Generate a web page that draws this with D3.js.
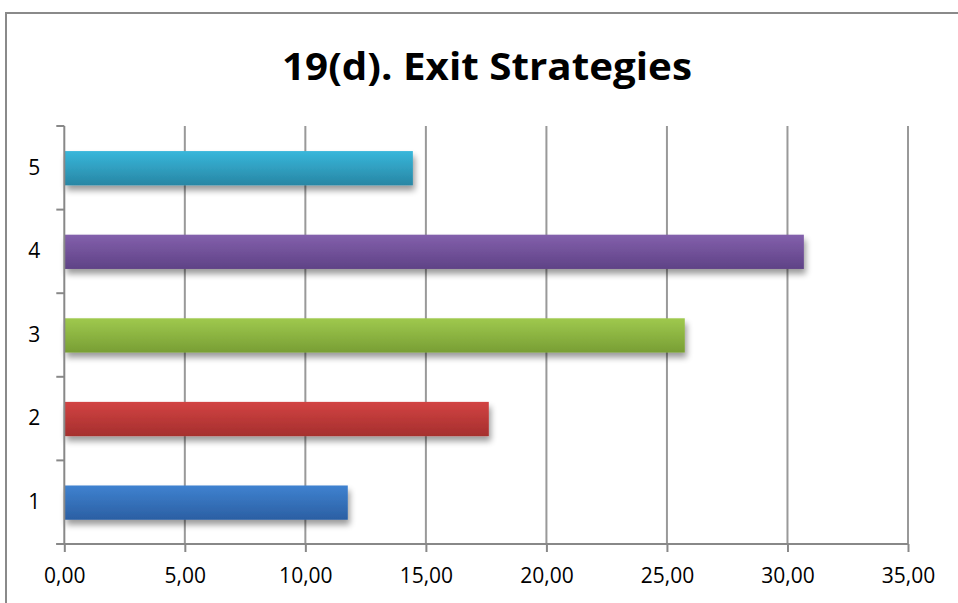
<!doctype html>
<html lang=en>
<head>
  <meta charset=utf-8>
  <title>19(d). Exit Strategies</title>
  <style>
    body { margin: 0; background: #fff; }
    svg { display: block; }
  </style>
</head>
<body>
  <svg></svg>
  <script src="https://d3js.org/d3.v7.min.js"></script>
  <script>
    var categories = ["1", "2", "3", "4", "5"];
    var values = [11.76, 17.61, 25.74, 30.68, 14.46];
    var colorsTop = ["#3f82d0", "#d24342", "#9fc94e", "#8360ac", "#38b7db"];
    var colorsBottom = ["#2b5fa3", "#a52f2e", "#789e34", "#5f4286", "#2886a4"];
    var xTicks = [0, 5, 10, 15, 20, 25, 30, 35];

    var width = 958, height = 603;
    var plotLeft = 64.3, plotRight = 908, plotTop = 126, plotBottom = 544;

    var svg = d3.select("svg")
      .attr("width", width)
      .attr("height", height);

    var defs = svg.append("defs");
    var f = defs.append("filter").attr("id", "shadow")
      .attr("x", "-5%").attr("y", "-20%").attr("width", "115%").attr("height", "160%");
    f.append("feGaussianBlur").attr("in", "SourceAlpha").attr("stdDeviation", 3);
    f.append("feOffset").attr("dx", 2).attr("dy", 5);
    f.append("feComponentTransfer").append("feFuncA").attr("type", "linear").attr("slope", 0.4);
    var m = f.append("feMerge");
    m.append("feMergeNode");
    m.append("feMergeNode").attr("in", "SourceGraphic");

    categories.forEach(function (c, i) {
      var g = defs.append("linearGradient").attr("id", "grad" + i)
        .attr("x1", 0).attr("y1", 0).attr("x2", 0).attr("y2", 1);
      g.append("stop").attr("offset", "0%").attr("stop-color", colorsTop[i]);
      g.append("stop").attr("offset", "100%").attr("stop-color", colorsBottom[i]);
    });

    // outer chart border
    svg.append("rect")
      .attr("x", 6).attr("y", 13)
      .attr("width", 1000).attr("height", 700)
      .attr("fill", "none")
      .attr("stroke", "#8a8a8a")
      .attr("stroke-width", 2);

    svg.append("text")
      .attr("x", 487).attr("y", 80)
      .attr("text-anchor", "middle")
      .style("font-family", "'Open Sans', sans-serif")
      .style("font-weight", "bold")
      .style("font-size", "38px")
      .attr("textLength", 410)
      .attr("lengthAdjust", "spacingAndGlyphs")
      .attr("fill", "#000")
      .text("19(d). Exit Strategies");

    var x = d3.scaleLinear().domain([0, 35]).range([plotLeft, plotRight]);
    var y = d3.scaleBand().domain(categories.slice().reverse()).range([plotTop, plotBottom]);

    // gridlines
    svg.append("g").selectAll("line")
      .data(xTicks.slice(1))
      .join("line")
      .attr("x1", d => x(d)).attr("x2", d => x(d))
      .attr("y1", plotTop).attr("y2", plotBottom)
      .attr("stroke", "#999")
      .attr("stroke-width", 2);

    // bars
    svg.append("g").selectAll("rect")
      .data(values)
      .join("rect")
      .attr("x", x(0))
      .attr("y", (d, i) => y(categories[i]) + y.bandwidth() * 0.3)
      .attr("width", d => x(d) - x(0))
      .attr("height", y.bandwidth() * 0.41)
      .attr("fill", (d, i) => "url(#grad" + i + ")")
      .attr("filter", "url(#shadow)");

    var xAxis = svg.append("g")
      .attr("transform", "translate(0," + plotBottom + ")")
      .call(d3.axisBottom(x).tickValues(xTicks).tickSize(8).tickPadding(16)
        .tickFormat(d => d3.format(".2f")(d).replace(".", ",")));
    xAxis.select(".domain").attr("d", "M" + (plotLeft - 8) + ",0H" + plotRight);

    var yAxis = svg.append("g")
      .attr("transform", "translate(" + plotLeft + ",0)")
      .call(d3.axisLeft(y).tickSize(0).tickPadding(24));
    yAxis.select(".domain").remove();
    // category boundary ticks
    yAxis.append("g").selectAll("line")
      .data(d3.range(categories.length + 1))
      .join("line")
      .attr("x1", -8).attr("x2", 0)
      .attr("y1", i => plotTop + i * y.step()).attr("y2", i => plotTop + i * y.step())
      .attr("stroke", "#888").attr("stroke-width", 2);
    yAxis.append("line")
      .attr("x1", 0).attr("x2", 0).attr("y1", plotTop).attr("y2", plotBottom)
      .attr("stroke", "#888").attr("stroke-width", 2);

    svg.selectAll(".tick line").attr("stroke", "#888").attr("stroke-width", 2);
    svg.selectAll(".domain").attr("stroke", "#888").attr("stroke-width", 2);
    svg.selectAll(".tick text")
      .attr("fill", "#000")
      .style("font-family", "'Open Sans', sans-serif")
      .style("font-size", "21px");
  </script>
</body>
</html>
